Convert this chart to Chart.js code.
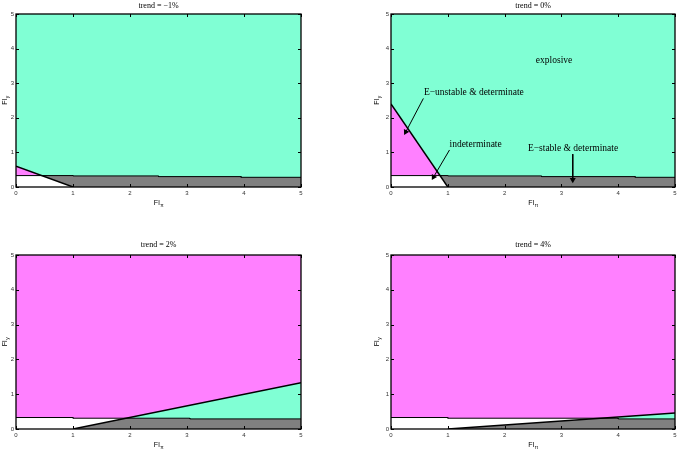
<!doctype html>
<html lang="en">
<head>
<meta charset="utf-8"/>
<title>Determinacy regions</title>
<script src="https://cdn.jsdelivr.net/npm/chart.js"></script>
<style>
*{box-sizing:border-box}
html,body{margin:0;padding:0;background:#fff}
body{width:682px;height:464px;position:relative;overflow:hidden}
canvas{position:absolute}
</style>
</head>
<body>
<canvas id="c1" width="341" height="232" style="left:0;top:0"></canvas>
<canvas id="c2" width="341" height="232" style="left:341px;top:0"></canvas>
<canvas id="c3" width="341" height="232" style="left:0;top:232px"></canvas>
<canvas id="c4" width="341" height="232" style="left:341px;top:232px"></canvas>
<script>
// axes
const axisMin = 0, axisMax = 5, axisStep = 1;
const titles = ['trend = \u22121%', 'trend = 0%', 'trend = 2%', 'trend = 4%'];

// whole plot box (background region)
const plotBox = [[0,5],[0,0],[5,0],[5,5]];

// trend = -1%
const p1Boundary = [[0,0.33],[1,0.33],[1,0.32],[2.5,0.32],[2.5,0.30],[3.95,0.30],[3.95,0.28],[5,0.28]];
const p1Diagonal = [[0,0.6],[1,0]];
const p1Magenta = [[0,0.6],[0,0.33],[0.45,0.33]];
const p1White = [[0,0],[0,0.33],[0.45,0.33],[1,0]];
const p1Gray = [[0.45,0.33],[1,0.33],[1,0.32],[2.5,0.32],[2.5,0.30],[3.95,0.30],[3.95,0.28],[5,0.28],[5,0],[1,0]];

// trend = 0%
const p2Boundary = [[0,0.33],[1,0.33],[1,0.32],[2.65,0.32],[2.65,0.30],[4.3,0.30],[4.3,0.28],[5,0.28]];
const p2Diagonal = [[0,2.4],[1,0]];
const p2Magenta = [[0,2.4],[0,0.33],[0.86,0.33]];
const p2White = [[0,0],[0,0.33],[0.86,0.33],[1,0]];
const p2Gray = [[0.86,0.33],[1,0.33],[1,0.32],[2.65,0.32],[2.65,0.30],[4.3,0.30],[4.3,0.28],[5,0.28],[5,0],[1,0]];

// trend = 2%
const p3Boundary = [[0,0.33],[1,0.33],[1,0.31],[3.05,0.31],[3.05,0.29],[5,0.29]];
const p3Diagonal = [[1,0],[5,1.33]];
const p3White = [[0,0],[0,0.33],[1,0.33],[1,0.31],[1.93,0.31],[1,0]];
const p3Gray = [[1,0],[1.93,0.31],[3.05,0.31],[3.05,0.29],[5,0.29],[5,0]];
const p3Cyan = [[1.93,0.31],[3.05,0.31],[3.05,0.29],[5,0.29],[5,1.33]];

// trend = 4%
const p4Boundary = [[0,0.33],[1,0.33],[1,0.31],[4,0.31],[4,0.29],[5,0.29]];
const p4Diagonal = [[1,0],[5,0.46]];
const p4White = [[0,0],[0,0.33],[1,0.33],[1,0.31],[3.7,0.31],[1,0]];
const p4Gray = [[1,0],[3.7,0.31],[4,0.31],[4,0.29],[5,0.29],[5,0]];
const p4Cyan = [[3.7,0.31],[4,0.31],[4,0.29],[5,0.29],[5,0.46]];

// annotations, trend = 0%
const noteTexts = ['explosive', 'E\u2212unstable & determinate', 'indeterminate', 'E\u2212stable & determinate'];
const noteX = [2.55, 0.58, 1.03, 2.41];
const noteY = [3.67, 2.72, 1.23, 1.11];
const arrowFrom = [[0.57,2.56],[1.03,1.07],[3.2,0.95]];
const arrowTo = [[0.26,1.59],[0.75,0.29],[3.2,0.21]];

const CYAN = '#80ffd4', MAGENTA = '#ff80ff', GRAY = '#808080', WHITE = '#ffffff';

Chart.defaults.font.family = '"Liberation Sans", Arial, sans-serif';

function pts(a){ return a.map(p => ({x:p[0], y:p[1]})) }
function region(a, color){
  return { data: pts(a), fill: 'shape', backgroundColor: color, borderColor: 'rgba(0,0,0,0)', borderWidth: 0, pointRadius: 0 };
}
function edge(a, w){
  return { data: pts(a), fill: false, borderColor: '#000', borderWidth: w, pointRadius: 0 };
}
function arrow(from, to){
  return {
    data: pts([from, to]), fill: false, borderColor: '#000', borderWidth: 1,
    pointStyle: 'triangle', pointBackgroundColor: '#000', pointBorderColor: '#000', pointBorderWidth: 0,
    pointRadius: c => c.dataIndex === 1 ? 3.5 : 0,
    rotation: c => {
      const s = c.chart.scales;
      const dx = s.x.getPixelForValue(to[0]) - s.x.getPixelForValue(from[0]);
      const dy = s.y.getPixelForValue(to[1]) - s.y.getPixelForValue(from[1]);
      return Math.atan2(dx, -dy) * 180 / Math.PI;
    }
  };
}

function sub(ctx, main, small, cx, cy){
  ctx.font = '7px "Liberation Sans", Arial, sans-serif';
  const w1 = ctx.measureText(main).width;
  ctx.font = '5px "Liberation Sans", Arial, sans-serif';
  const w2 = ctx.measureText(small).width;
  const x0 = cx - (w1 + w2) / 2;
  ctx.textAlign = 'left'; ctx.textBaseline = 'alphabetic';
  ctx.font = '7px "Liberation Sans", Arial, sans-serif';
  ctx.fillText(main, x0, cy + 2.5);
  ctx.font = '5px "Liberation Sans", Arial, sans-serif';
  ctx.fillText(small, x0 + w1 + 0.5, cy + 5);
}

const decor = {
  id: 'decor',
  afterDatasetsDraw(chart, args, o){
    const {ctx, chartArea: a, scales: {x, y}} = chart;
    ctx.save();
    ctx.strokeStyle = '#000';
    ctx.lineWidth = 1;
    ctx.beginPath();
    x.ticks.forEach(t => {
      const px = Math.round(x.getPixelForValue(t.value)) + 0.5;
      ctx.moveTo(px, a.bottom); ctx.lineTo(px, a.bottom - 3);
      ctx.moveTo(px, a.top); ctx.lineTo(px, a.top + 3);
    });
    y.ticks.forEach(t => {
      const py = Math.round(y.getPixelForValue(t.value)) + 0.5;
      ctx.moveTo(a.left, py); ctx.lineTo(a.left + 3, py);
      ctx.moveTo(a.right, py); ctx.lineTo(a.right - 3, py);
    });
    ctx.stroke();
    ctx.lineWidth = 1.3;
    ctx.strokeRect(a.left, a.top, a.right - a.left, a.bottom - a.top);

    ctx.fillStyle = '#000';
    (o.notes || []).forEach((txt, i) => {
      ctx.font = '9.5px "Liberation Serif", "Times New Roman", serif';
      ctx.textAlign = 'left'; ctx.textBaseline = 'middle';
      ctx.fillText(txt, x.getPixelForValue(noteX[i]), y.getPixelForValue(noteY[i]));
    });

    sub(ctx, 'Fl', '\u03c0', (a.left + a.right) / 2, a.bottom + 15);
    ctx.translate(a.left - o.yOff, (a.top + a.bottom) / 2);
    ctx.rotate(-Math.PI / 2);
    sub(ctx, 'Fl', 'y', 0, 0);
    ctx.restore();
  }
};

function makePanel(id, p){
  new Chart(document.getElementById(id), {
    type: 'line',
    data: { datasets: p.datasets },
    options: {
      responsive: false, animation: false, events: [],
      layout: { padding: { left: p.padL, right: p.padR, top: 0, bottom: 0 } },
      plugins: {
        legend: { display: false },
        tooltip: { enabled: false },
        title: {
          display: true, text: p.title, fullSize: false, color: '#000',
          font: { family: '"Liberation Serif", "Times New Roman", serif', size: 8, weight: 'normal' },
          padding: { top: p.titleTop, bottom: p.titleBottom }
        },
        decor: { notes: p.notes, yOff: p.yOff }
      },
      scales: {
        x: {
          type: 'linear', min: axisMin, max: axisMax,
          ticks: { stepSize: axisStep, padding: 3, color: '#333', font: { size: 6 }, maxRotation: 0 },
          grid: { display: false, drawTicks: false }, border: { display: false },
          afterFit: s => { s.height = p.xH; }
        },
        y: {
          type: 'linear', min: axisMin, max: axisMax,
          ticks: { stepSize: axisStep, padding: 2, color: '#333', font: { size: 6 } },
          grid: { display: false, drawTicks: false }, border: { display: false },
          afterFit: s => { s.width = 16; }
        }
      }
    },
    plugins: [decor]
  });
}

const topRow = { titleTop: 0.7, titleBottom: 3.7, xH: 45 };
const bottomRow = { titleTop: 8.2, titleBottom: 5.2, xH: 35 };

makePanel('c1', Object.assign({}, topRow, {
  title: titles[0], padL: 0, padR: 40, yOff: 12,
  datasets: [edge(p1Diagonal, 1.5), edge(p1Boundary, 1),
    region(p1Magenta, MAGENTA), region(p1White, WHITE), region(p1Gray, GRAY), region(plotBox, CYAN)]
}));

makePanel('c2', Object.assign({}, topRow, {
  title: titles[1], padL: 34, padR: 7, yOff: 15, notes: noteTexts,
  datasets: [arrow(arrowFrom[0], arrowTo[0]), arrow(arrowFrom[1], arrowTo[1]), arrow(arrowFrom[2], arrowTo[2]),
    edge(p2Diagonal, 1.5), edge(p2Boundary, 1),
    region(p2Magenta, MAGENTA), region(p2White, WHITE), region(p2Gray, GRAY), region(plotBox, CYAN)]
}));

makePanel('c3', Object.assign({}, bottomRow, {
  title: titles[2], padL: 0, padR: 40, yOff: 12,
  datasets: [edge(p3Diagonal, 1.5), edge(p3Boundary, 1),
    region(p3Cyan, CYAN), region(p3White, WHITE), region(p3Gray, GRAY), region(plotBox, MAGENTA)]
}));

makePanel('c4', Object.assign({}, bottomRow, {
  title: titles[3], padL: 34, padR: 7, yOff: 15,
  datasets: [edge(p4Diagonal, 1.5), edge(p4Boundary, 1),
    region(p4Cyan, CYAN), region(p4White, WHITE), region(p4Gray, GRAY), region(plotBox, MAGENTA)]
}));
</script>
</body>
</html>
